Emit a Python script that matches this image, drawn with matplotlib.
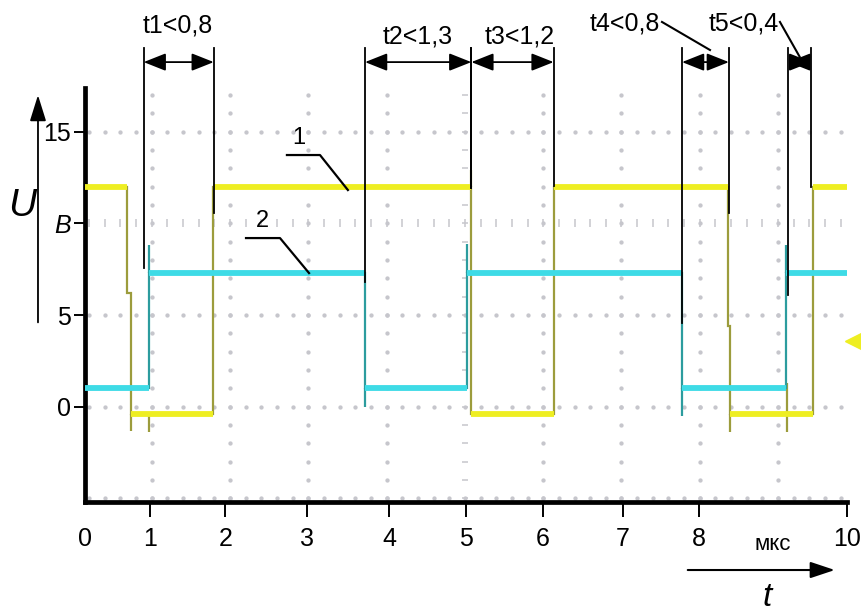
import matplotlib.pyplot as plt
import numpy as np

plt.rcParams['font.family'] = ['Liberation Sans', 'DejaVu Sans']

FONTSIZE = 18

# curve 1 (yellow): step edges in мкс and the level between them in В
u1_edges = [0.0, 0.55, 0.60, 1.68, 5.07, 6.15, 8.44, 8.47, 9.55, 10.0]
u1_levels = [12.0, 6.2, -0.4, 12.0, -0.4, 12.0, 4.4, -0.4, 12.0]
# short spikes on curve 1: time, lowest and highest value
u1_spike_t = [0.60, 0.845, 5.07, 8.47, 9.21]
u1_spike_lo = [-1.3, -1.4, 12.0, -1.4, -1.4]
u1_spike_hi = [-0.4, -0.4, 12.9, -0.4, 1.3]

# curve 2 (cyan)
u2_edges = [0.0, 0.845, 3.675, 5.01, 7.83, 9.20, 10.0]
u2_levels = [1.0, 7.3, 1.0, 7.3, 1.0, 7.3]
u2_spike_t = [0.845, 3.675, 5.01, 7.83, 9.20]
u2_spike_lo = [7.3, 0.0, 7.3, -0.5, 7.3]
u2_spike_hi = [8.8, 1.0, 8.9, 1.0, 8.8]

# axis ticks as they are drawn under the screen
t_ticks = [0, 0.85, 1.84, 2.91, 3.99, 5.0, 6.01, 7.06, 8.06, 10]
t_labels = ['0', '1', '2', '3', '4', '5', '6', '7', '8', '10']
u_ticks = [0, 5, 10, 15]
u_labels = ['0', '5', 'В', '15']

# measured intervals: start, end, where the marker lines end, label
iv_start = [0.77, 3.675, 5.07, 7.835, 9.23]
iv_end = [1.69, 5.07, 6.15, 8.45, 9.53]
iv_start_bottom = [7.57, 6.80, 11.93, 4.57, 6.09]
iv_end_bottom = [10.57, 11.93, 12.04, 10.57, 11.99]
iv_labels = ['t1<0,8', 't2<1,3', 't3<1,2', 't4<0,8', 't5<0,4']
iv_label_x = [1.22, 4.36, 5.70, 7.09, 8.65]
iv_label_y = [20.39, 19.82, 19.82, 20.55, 20.55]

YELLOW = '#eeee22'
OLIVE = '#9c9c3c'
CYAN = '#3edbe6'
TEAL = '#2c9c9e'
DOTS = '#c6c6cc'


def draw_curve(ax, edges, levels, spike_t, spike_lo, spike_hi, bright, dark):
    edges = np.array(edges)
    levels = np.array(levels)
    ax.stairs(levels, edges, baseline=None, color=dark, lw=1.6, zorder=3)
    ax.vlines(spike_t, spike_lo, spike_hi, color=dark, lw=1.6, zorder=3)
    long = (edges[1:] - edges[:-1]) > 0.1
    ax.hlines(levels[long], edges[:-1][long], edges[1:][long],
              color=bright, lw=4.2, zorder=4)


def draw_screen_grid(ax):
    # oscilloscope divisions: 5 dots per division
    x0, dx = 0.875, 1.0276
    cols = x0 + dx * np.arange(9)
    xs = x0 + dx / 5 * np.arange(-4, 46)
    xs = xs[(xs > 0.03) & (xs < 9.98)]
    ys = np.arange(-5, 18)
    for n, c in enumerate(cols):
        mk = '_' if n == 4 else 'o'
        ax.plot(np.full(len(ys), c), ys, ls='none', marker=mk, ms=2.0 if mk == 'o' else 4,
                color=DOTS, mec=DOTS, mew=1.1, zorder=1)
    for r in [-5, 0, 5, 10, 15]:
        mk = '|' if r == 10 else 'o'
        ax.plot(xs, np.full(len(xs), r), ls='none', marker=mk, ms=2.0 if mk == 'o' else 6,
                color=DOTS, mec=DOTS, mew=1.1, zorder=1)


fig = plt.figure(figsize=(8.62, 6.12), dpi=100)
ax = fig.add_axes([0.09861, 0.18023, 0.88399, 0.67598])
ax.set_xlim(0, 10)
ax.set_ylim(-5.183, 17.387)

draw_screen_grid(ax)
draw_curve(ax, u1_edges, u1_levels, u1_spike_t, u1_spike_lo, u1_spike_hi, YELLOW, OLIVE)
draw_curve(ax, u2_edges, u2_levels, u2_spike_t, u2_spike_lo, u2_spike_hi, CYAN, TEAL)

# trigger marker on the right edge of the screen
ax.plot(10.1, 3.6, marker='<', ms=14, color=YELLOW, clip_on=False, zorder=4)

for side in ['top', 'right']:
    ax.spines[side].set_visible(False)
for side in ['left', 'bottom']:
    ax.spines[side].set_linewidth(3.4)

ax.set_xticks(t_ticks, t_labels, fontsize=FONTSIZE)
ax.set_yticks(u_ticks, u_labels, fontsize=FONTSIZE)
ax.tick_params(axis='x', direction='out', length=11, width=1.4, pad=7)
ax.tick_params(axis='y', direction='out', length=8, width=1.4, pad=2)
ax.xaxis.get_major_ticks()[0].tick1line.set_visible(False)
ax.get_yticklabels()[2].set_style('italic')

# interval markers above the screen
top = 19.57
arrow_y = 18.80
for a, b, ab, bb, lab, lx, ly in zip(iv_start, iv_end, iv_start_bottom, iv_end_bottom,
                                      iv_labels, iv_label_x, iv_label_y):
    ax.plot([a, a], [ab, top], color='k', lw=1.3, clip_on=False, zorder=5)
    ax.plot([b, b], [bb, top], color='k', lw=1.3, clip_on=False, zorder=5)
    ax.annotate('', xy=(b, arrow_y), xytext=(a, arrow_y), annotation_clip=False,
                arrowprops=dict(arrowstyle='<|-|>,head_length=0.68,head_width=0.27',
                                color='k', lw=1.3, shrinkA=0, shrinkB=0, mutation_scale=20))
    ax.text(lx, ly, lab, fontsize=FONTSIZE, ha='center', va='baseline')

# leader lines for the two short intervals
ax.plot([7.572, 8.202], [20.99, 19.46], color='k', lw=1.5, clip_on=False)
ax.plot([9.12, 9.38], [20.99, 19.08], color='k', lw=1.5, clip_on=False)

# curve numbers
ax.text(2.81, 14.66, '1', fontsize=17, ha='center', va='center')
ax.plot([2.65, 3.084, 3.45], [13.73, 13.73, 11.82], color='k', lw=1.6, zorder=6)
ax.text(2.323, 10.13, '2', fontsize=17, ha='center', va='center')
ax.plot([2.113, 2.559, 2.94], [9.2, 9.2, 7.29], color='k', lw=1.6, zorder=6)

# axis names with arrows
ax.annotate('', xy=(-0.617, 17.0), xytext=(-0.617, 4.6), annotation_clip=False,
            arrowprops=dict(arrowstyle='-|>,head_length=0.8,head_width=0.25',
                            color='k', lw=1.3, shrinkA=0, shrinkB=0, mutation_scale=20))
ax.text(-0.83, 10.94, 'U', fontsize=28, style='italic', ha='center', va='center')
ax.annotate('', xy=(9.84, -8.91), xytext=(7.91, -8.91), annotation_clip=False,
            arrowprops=dict(arrowstyle='-|>,head_length=0.75,head_width=0.25',
                            color='k', lw=1.5, shrinkA=0, shrinkB=0, mutation_scale=20))
ax.text(8.95, -10.85, 't', fontsize=24, style='italic', ha='center', va='baseline')
ax.text(9.03, -7.82, 'мкс', fontsize=16, ha='center', va='baseline')

fig.savefig('out.png', dpi=100)
